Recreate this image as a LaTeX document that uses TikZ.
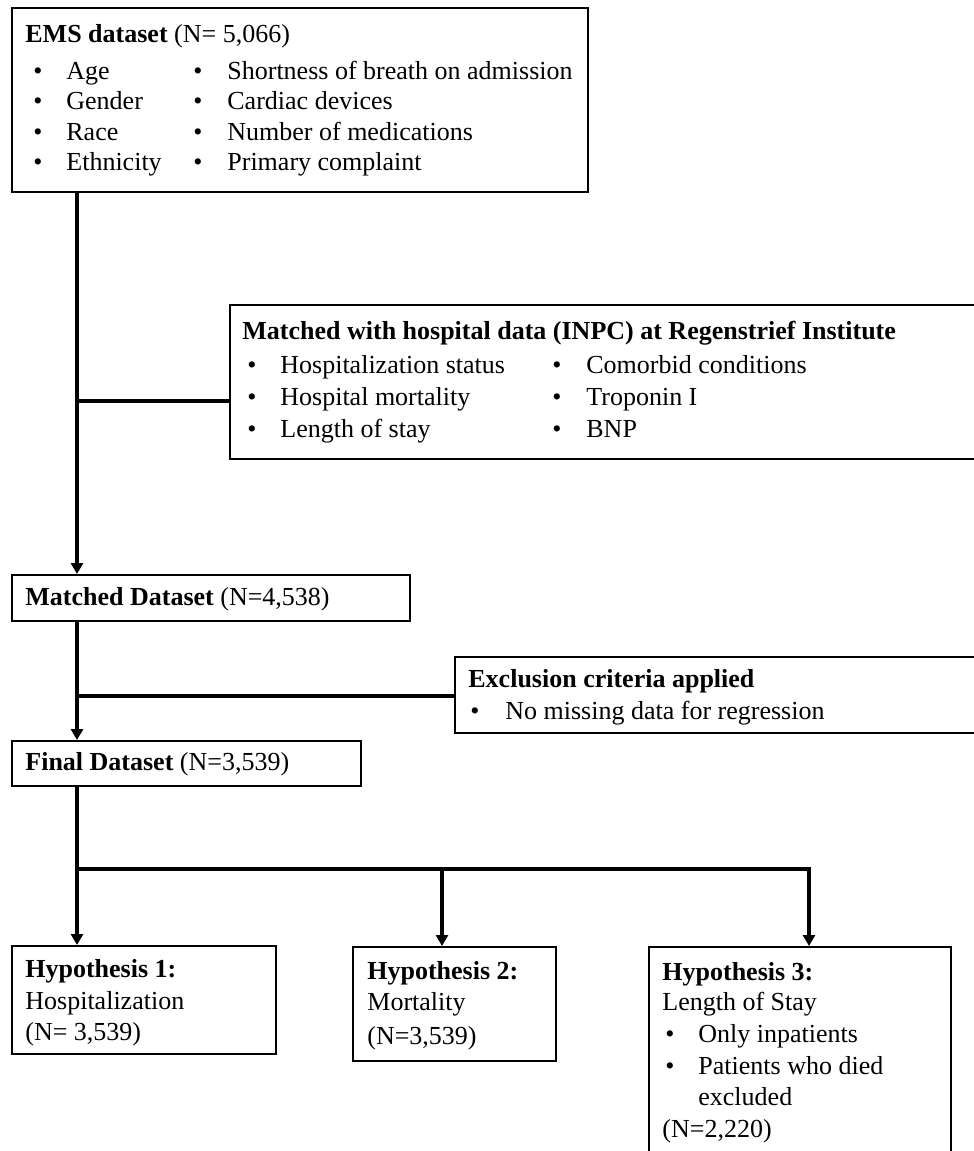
\documentclass[tikz,border=0pt]{standalone}
\usepackage{fontspec}
\setmainfont{Liberation Serif}
\usetikzlibrary{arrows.meta,fit}
\tikzset{
	box/.style={draw, line width=1pt, inner sep=0pt},
	txt/.style={anchor=base west, inner sep=0pt, font=\fontsize{13}{15.5}\selectfont},
	link/.style={line width=1.8pt},
	flow/.style={link, -{Triangle[width=6pt,length=5.5pt]}},
}
\begin{document}
\begin{tikzpicture}[x=0.5pt,y=-0.5pt]
	\useasboundingbox (0,0) rectangle (974,1151);
	\clip (0,0) rectangle (974,1151);
	
	% boxes
	\node[box, fit={(12,8) (588,192)}] (ems) {};
	\node[box, fit={(230,305) (995,459)}] (hosp) {};
	\node[box, fit={(12,575) (410,621)}] (matched) {};
	\node[box, fit={(455,657) (995,733)}] (excl) {};
	\node[box, fit={(12,741) (361,786)}] (final) {};
	\node[box, fit={(12,946) (276,1054)}] (hypA) {};
	\node[box, fit={(353,947) (556,1061)}] (hypB) {};
	\node[box, fit={(649,947) (951,1175)}] (hypC) {};
	
	% EMS dataset
	\node[txt] (emsT) at (25,42) {\textbf{EMS dataset} (N= 5,066)};
	\foreach \y/\a/\b in {79/Age/Shortness of breath on admission, 109/Gender/Cardiac devices, 140/Race/Number of medications, 170/Ethnicity/Primary complaint}{
		\node[txt] (emsBa\y) at (33,\y) {•};
		\node[txt] (emsA\y) at (66,\y) {\a};
		\node[txt] (emsBb\y) at (193,\y) {•};
		\node[txt] (emsB\y) at (227,\y) {\b};
	}
	
	% hospital data
	\node[txt] (hospT) at (242,339) {\textbf{Matched with hospital data (INPC) at Regenstrief Institute}};
	\foreach \y/\a/\b in {373/Hospitalization status/Comorbid conditions, 405/Hospital mortality/Troponin I, 437/Length of stay/BNP}{
		\node[txt] (hospBa\y) at (247,\y) {•};
		\node[txt] (hospA\y) at (280,\y) {\a};
		\node[txt] (hospBb\y) at (552,\y) {•};
		\node[txt] (hospB\y) at (586,\y) {\b};
	}
	
	\node[txt] (matchedT) at (25,605) {\textbf{Matched Dataset} (N=4,538)};
	
	\node[txt] (exclT) at (468,687) {\textbf{Exclusion criteria applied}};
	\node[txt] (exclB) at (470,719) {•};
	\node[txt] (exclA) at (505,719) {No missing data for regression};
	
	\node[txt] (finalT) at (25,770) {\textbf{Final Dataset} (N=3,539)};
	
	% hypotheses
	\node[txt] (hypAT) at (25,977) {\textbf{Hypothesis 1:}};
	\node[txt] (hypA1) at (25,1009) {Hospitalization};
	\node[txt] (hypA2) at (25,1040) {(N= 3,539)};
	
	\node[txt] (hypBT) at (367,979) {\textbf{Hypothesis 2:}};
	\node[txt] (hypB1) at (367,1010) {Mortality};
	\node[txt] (hypB2) at (367,1044) {(N=3,539)};
	
	\node[txt] (hypCT) at (662,980) {\textbf{Hypothesis 3:}};
	\node[txt] (hypC1) at (662,1010) {Length of Stay};
	\node[txt] (hypCb1) at (665,1042) {•};
	\node[txt] (hypC2) at (698,1042) {Only inpatients};
	\node[txt] (hypCb2) at (665,1074) {•};
	\node[txt] (hypC3) at (698,1074) {Patients who died};
	\node[txt] (hypC4) at (698,1105) {excluded};
	\node[txt] (hypC5) at (662,1137) {(N=2,220)};
	
	% connectors
	\coordinate (j1) at (77,401);
	\coordinate (j2) at (77,696);
	\coordinate (j3) at (77,869);
	\coordinate (j4) at (442,869);
	\coordinate (j5) at (809,869);
	
	\draw[flow] (ems.south -| j1) -- (matched.north -| j1);
	\draw[link] (j1) -- (j1 -| hosp.west);
	\draw[flow] (matched.south -| j2) -- (final.north -| j2);
	\draw[link] (j2) -- (j2 -| excl.west);
	\draw[flow] (final.south -| j3) -- (hypA.north -| j3);
	\draw[flow] (j3) -- (j5) -- (j5 |- hypC.north);
	\draw[flow] (j4) -- (j4 |- hypB.north);
\end{tikzpicture}
\end{document}
